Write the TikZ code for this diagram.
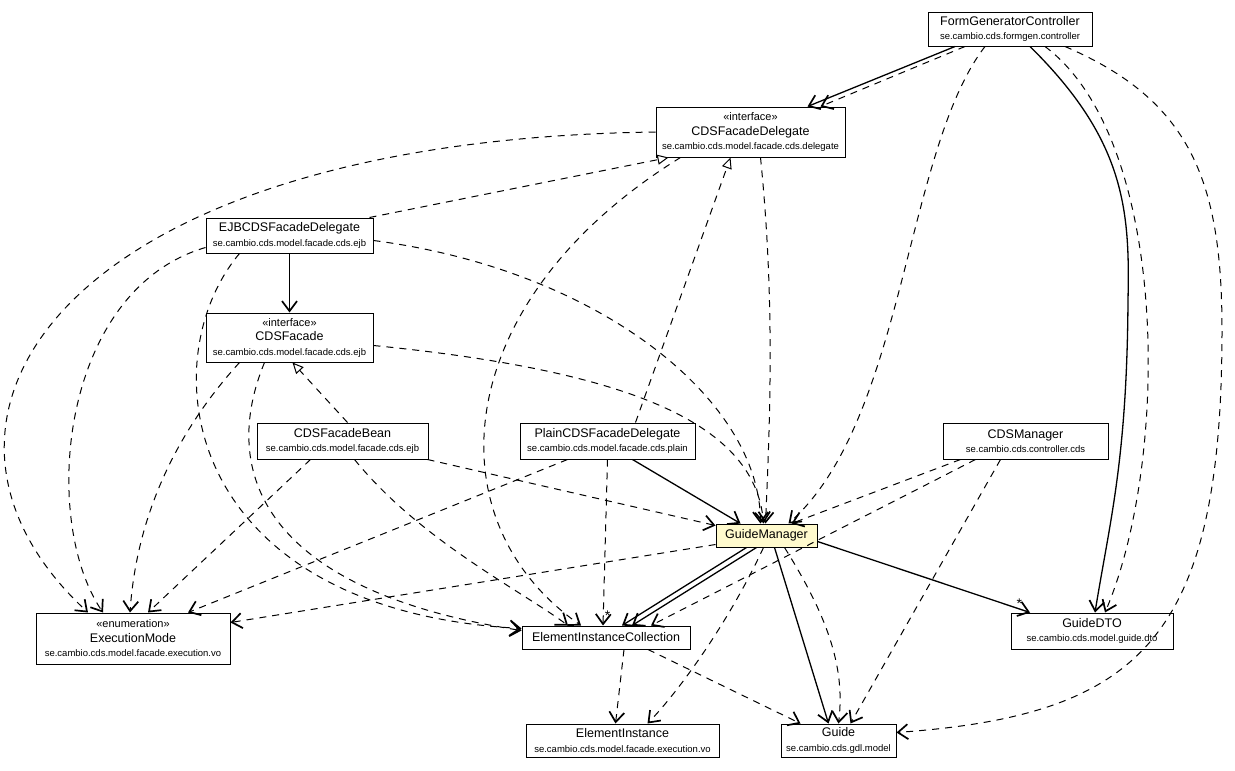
\documentclass[tikz,border=0pt]{standalone}
\usepackage{fontspec}
\setmainfont{Liberation Sans}
\usetikzlibrary{arrows.meta}

\definecolor{mgryellow}{RGB}{255,250,205}
\newcommand{\pkgname}[1]{{\fontsize{9.5}{14.5}\selectfont #1}}
\newcommand{\stereo}[1]{{\fontsize{11}{14.5}\selectfont «#1»}}

\begin{document}
\begin{tikzpicture}[x=1pt, y=-1pt,
    cls/.style={draw, line width=1pt, fill=white, inner sep=0pt, align=center,
      font=\fontsize{12.5}{14.5}\selectfont},
    dep/.style={line width=1pt, dash pattern=on 7pt off 6pt,
      -{Straight Barb[length=10pt, width=15pt, line width=1.7pt]}},
    assoc/.style={line width=1.3pt, -{Straight Barb[length=10pt, width=15pt, line width=1.7pt]}},
    impl/.style={line width=1pt, dash pattern=on 7pt off 6pt,
      -{Triangle[open, length=11pt, width=10pt, fill=white]}},
    mult/.style={font=\fontsize{14}{14}\selectfont, inner sep=1pt}]
      \useasboundingbox (0, 0) rectangle (1235, 771);

      % classes
      \node[cls, minimum width=164pt, minimum height=34pt] (fgc) at (1010, 29) {FormGeneratorController\\\pkgname{se.cambio.cds.formgen.controller}};
      \node[cls, minimum width=189pt, minimum height=50pt] (cdsfd) at (750.5, 132) {\stereo{interface}\\CDSFacadeDelegate\\\pkgname{se.cambio.cds.model.facade.cds.delegate}};
      \node[cls, minimum width=167pt, minimum height=35pt] (ejb) at (289.5, 235.5) {EJBCDSFacadeDelegate\\\pkgname{se.cambio.cds.model.facade.cds.ejb}};
      \node[cls, minimum width=167pt, minimum height=49pt] (cdsf) at (289.5, 337.5) {\stereo{interface}\\CDSFacade\\\pkgname{se.cambio.cds.model.facade.cds.ejb}};
      \node[cls, minimum width=171pt, minimum height=36pt] (bean) at (342.5, 441) {CDSFacadeBean\\\pkgname{se.cambio.cds.model.facade.cds.ejb}};
      \node[cls, minimum width=175pt, minimum height=36pt] (plain) at (607.5, 441) {PlainCDSFacadeDelegate\\\pkgname{se.cambio.cds.model.facade.cds.plain}};
      \node[cls, minimum width=165pt, minimum height=36pt] (mgr) at (1025.5, 441) {CDSManager\\\pkgname{se.cambio.cds.controller.cds}};
      \node[cls, fill=mgryellow, minimum width=101pt, minimum height=23pt] (gm) at (766.5, 535.5) {GuideManager};
      \node[cls, minimum width=194pt, minimum height=51pt] (exec) at (133, 638.5) {\stereo{enumeration}\\ExecutionMode\\\pkgname{se.cambio.cds.model.facade.execution.vo}};
      \node[cls, minimum width=168pt, minimum height=23pt] (eic) at (606, 637.5) {ElementInstanceCollection};
      \node[cls, minimum width=162pt, minimum height=36pt] (dto) at (1092, 631) {GuideDTO\\\pkgname{se.cambio.cds.model.guide.dto}};
      \node[cls, minimum width=193pt, minimum height=33pt] (ei) at (622.5, 740.5) {ElementInstance\\\pkgname{se.cambio.cds.model.facade.execution.vo}};
      \node[cls, minimum width=115pt, minimum height=33pt] (guide) at (838.5, 740.5) {Guide\\\pkgname{se.cambio.cds.gdl.model}};

      % FormGeneratorController
      \draw[assoc] ([xshift=-55pt]fgc.south) -- ([xshift=57pt]cdsfd.north);
      \draw[dep] ([xshift=-45pt]fgc.south) -- ([xshift=70pt]cdsfd.north);
      \draw[dep] ([xshift=-25pt]fgc.south) .. controls (905, 150) and (905, 420) .. ([xshift=22pt]gm.north);
      \draw[assoc] ([xshift=20pt]fgc.south) .. controls (1125, 140) and (1130, 210) .. (1128, 300) .. controls (1127, 460) and (1110, 520) .. ([xshift=3pt]dto.north);
      \draw[dep] ([xshift=35pt]fgc.south) .. controls (1170, 140) and (1170, 460) .. ([xshift=13pt]dto.north);
      \draw[dep] ([xshift=55pt]fgc.south) .. controls (1190, 100) and (1222, 180) .. (1222, 330) .. controls (1222, 640) and (1140, 715) .. ([yshift=8pt]guide.east);

      % CDSFacadeDelegate
      \draw[dep] ([xshift=10pt]cdsfd.south) .. controls (775, 300) and (770, 420) .. ([xshift=-1pt]gm.north);
      \draw[dep] (cdsfd.west) .. controls (60, 140) and (-120, 420) .. ([xshift=-45pt]exec.north);
      \draw[dep] ([xshift=-70pt]cdsfd.south) .. controls (450, 300) and (430, 520) .. ([xshift=-25pt]eic.north);

      % EJBCDSFacadeDelegate
      \draw[impl] ([xshift=80pt]ejb.north) -- ([xshift=-82pt]cdsfd.south);
      \draw[assoc] (ejb.south) -- (cdsf.north);
      \draw[dep] ([yshift=-12pt]ejb.west) .. controls (60, 290) and (40, 520) .. ([xshift=-30pt]exec.north);
      \draw[dep] ([xshift=-50pt]ejb.south) .. controls (150, 360) and (180, 610) .. ([yshift=9pt]eic.west);
      \draw[dep] ([yshift=-5pt]ejb.east) .. controls (600, 270) and (760, 400) .. ([xshift=-6pt]gm.north);

      % CDSFacade
      \draw[dep] ([xshift=-50pt]cdsf.south) .. controls (160, 450) and (135, 540) .. ([xshift=-3pt]exec.north);
      \draw[dep] ([xshift=-25pt]cdsf.south) .. controls (220, 470) and (260, 590) .. ([yshift=7pt]eic.west);
      \draw[dep] ([yshift=-8pt]cdsf.east) .. controls (620, 370) and (755, 420) .. ([xshift=-3pt]gm.north);

      % CDSFacadeBean
      \draw[impl] ([xshift=5pt]bean.north) -- ([xshift=3pt]cdsf.south);
      \draw[dep] ([xshift=-32pt]bean.south) -- ([xshift=15pt]exec.north);
      \draw[dep] ([xshift=12pt]bean.south) .. controls (420, 540) and (520, 590) .. ([xshift=-38pt]eic.north);
      \draw[dep] ([xshift=85pt]bean.south) -- ([yshift=10pt]gm.west);

      % PlainCDSFacadeDelegate
      \draw[impl] ([xshift=28pt]plain.north) -- ([xshift=-20pt]cdsfd.south);
      \draw[assoc] ([xshift=25pt]plain.south) -- ([xshift=-26pt]gm.north);
      \draw[dep] ([xshift=-40pt]plain.south) -- ([xshift=55pt]exec.north);
      \draw[dep] (plain.south) -- ([xshift=-3pt]eic.north) node[mult, pos=0.94, right] {*};

      % CDSManager
      \draw[dep] ([xshift=-65pt]mgr.south) -- ([xshift=25pt]gm.north);
      \draw[dep] ([xshift=-50pt]mgr.south) -- ([xshift=45pt]eic.north);
      \draw[dep] ([xshift=-25pt]mgr.south) -- ([xshift=12pt]guide.north);

      % GuideManager
      \draw[dep] ([yshift=-9pt]gm.west) -- ([yshift=16pt]exec.east);
      \draw[assoc] ([xshift=-20pt]gm.south) -- ([xshift=16pt]eic.north);
      \draw[assoc] ([xshift=-10pt]gm.south) -- ([xshift=26pt]eic.north);
      \draw[dep] ([xshift=-3pt]gm.south) .. controls (730, 620) and (680, 690) .. ([xshift=25pt]ei.north);
      \draw[assoc] ([xshift=8pt]gm.south) -- ([xshift=-10pt]guide.north);
      \draw[dep] ([xshift=18pt]gm.south) .. controls (830, 620) and (845, 670) .. (guide.north);
      \draw[assoc] ([yshift=-6pt]gm.east) -- ([xshift=-62pt]dto.north) node[mult, pos=0.97, above left] {*};

      % ElementInstanceCollection
      \draw[dep] ([xshift=18pt]eic.south) -- ([xshift=-7pt]ei.north);
      \draw[dep] ([xshift=42pt]eic.south) -- ([xshift=-38pt]guide.north);
    \end{tikzpicture}
\end{document}
